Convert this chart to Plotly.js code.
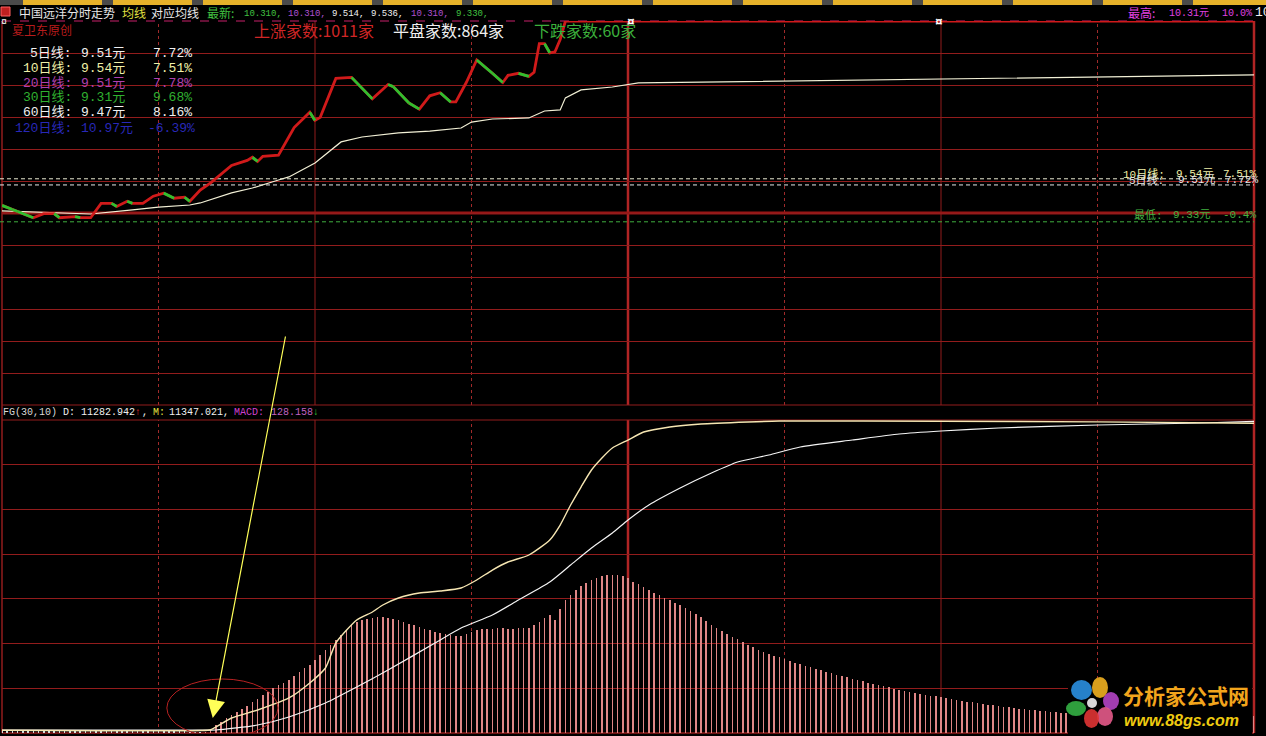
<!DOCTYPE html>
<html><head><meta charset="utf-8">
<script src="https://cdn.plot.ly/plotly-3.0.1.min.js"></script>
<style>html,body{margin:0;padding:0;background:#000;overflow:hidden}#chart{width:1266px;height:736px}</style>
</head><body><div id="chart"></div>
<script>
// ---------------- data ----------------
const stockName = '中国远洋';
const prevClose = 9.373;
const latestVals = ['10.310','10.310','9.514','9.536','10.310','9.330'];
const highPrice = 10.31, highPct = '10.0%';
const lowPrice = 9.33, lowPct = '-0.4%';
const upCount = 1011, flatCount = 864, downCount = 60;
const maNames = ['5日线','10日线','20日线','30日线','60日线','120日线'];
const maPrice = [9.51, 9.54, 9.51, 9.31, 9.47, 10.97];
const maPct = ['7.72%','7.51%','7.78%','9.68%','8.16%','-6.39%'];
const fgD = '11282.942', fgM = '11347.021', fgMacd = '128.158';

// intraday price (minute index from 9:30, price)
const priceMin = [0,2,3,6,8,10,11,14,15,17,19,21,22,24,25,27,29,31,33,35,36,38,40,44,47,48,49,50,53,56,59,60,61,64,67,71,74,75,78,80,82,84,86,87,89,91,94,96,97,99,101,102,103,104,105,106,107,108,240];
const price    = [9.41,9.39,9.38,9.35,9.37,9.37,9.35,9.355,9.35,9.35,9.42,9.42,9.405,9.43,9.42,9.42,9.455,9.47,9.445,9.45,9.43,9.485,9.52,9.605,9.63,9.645,9.625,9.65,9.655,9.79,9.865,9.825,9.84,10.03,10.035,9.93,10.0,9.99,9.91,9.88,9.945,9.96,9.915,9.915,10.01,10.12,10.055,10.01,10.045,10.055,10.04,10.06,10.2,10.2,10.155,10.16,10.22,10.31,10.31];
// average price line
const avgMin   = [0,6,17,25,30,36,38,44,48,53,55,60,63,65,69,76,82,88,90,94,101,104,107,108,111,117,122,150,180,210,240];
const avgPrice = [9.383,9.378,9.368,9.388,9.402,9.412,9.422,9.471,9.495,9.534,9.549,9.617,9.681,9.72,9.744,9.764,9.773,9.788,9.817,9.832,9.837,9.871,9.876,9.935,9.974,9.988,10.008,10.018,10.027,10.037,10.047];
// FG indicator D (fast) and M (slow)
const dMin = [0,38,40,44,49,55,59,62,64,68,71,73,76,80,84,88,91,94,97,101,105,107,109,111,113,115,117,120,123,128,134,143,149,180,210,240];
const dVal = [100,90,120,546,838,1275,1821,2367,3278,4115,4407,4662,4917,5099,5172,5281,5572,5936,6228,6483,7029,7575,8304,8959,9578,10016,10380,10671,10962,11145,11254,11327,11363,11355,11330,11283];
const mMin = [0,38,41,49,55,62,68,74,83,88,94,99,105,109,113,117,120,124,130,136,141,147,153,163,172,180,191,210,230,240];
const mVal = [110,110,109,291,583,1093,1675,2294,3278,3824,4298,4844,5499,6119,6738,7284,7757,8304,8923,9469,9870,10125,10416,10671,10890,10999,11108,11218,11290,11347];
// MACD stick, one per minute (0..240)
const macd = [
23,23,23,15,15,15,15,23,23,15,15,15,23,23,23,15,15,15,15,15,15,23,23,15,15,15,15,15,15,23,23,23,23,15,15,15,8,8,8,
8,30,60,83,113,135,158,180,203,233,
255,285,308,338,360,375,398,428,458,488,
510,548,585,623,660,698,735,773,810,833,
848,855,863,870,870,863,855,848,833,818,
810,795,780,773,758,750,743,735,728,728,
743,758,773,780,780,780,788,788,780,780,
788,788,788,810,833,863,885,848,930,998,
1035,1073,1103,1125,1148,1163,1178,1185,1185,1185,
1178,1163,1133,1118,1095,1073,1050,1035,1013,998,
975,960,938,915,893,870,840,810,788,765,
743,720,705,683,660,645,623,608,593,578,
570,555,540,525,518,503,495,480,473,458,
450,435,428,420,405,398,390,375,368,360,
353,345,330,323,315,308,300,293,285,278,
278,270,263,255,248,240,233,233,225,218,
210,210,203,195,195,188,180,180,173,173,
165,165,158,158,150,
150,150,150,143,143,143,143,143,143,143,135,135,
135,135,135,135,135,135,135,135,135,135,135,135,135,135,131,131,131,131,131,131,131,131,128,128,128];

// ---------------- geometry helpers (pixel -> paper) ----------------
const PX = x => (x - 2) / 1252;
const PY = y => (733 - y) / 712;
const CJK = '"Noto Sans CJK SC", sans-serif';
const MONO = '"Liberation Mono", "DejaVu Sans Mono", "Noto Sans CJK SC", monospace';
const BOLD = '"Liberation Sans", "Noto Sans CJK SC", sans-serif';
const topDom = [PY(405), 1], botDom = [0, PY(420)];

function txt(x, y, text, color, size, family, extra) {
  return Object.assign({xref:'paper', yref:'paper', x:PX(x), y:PY(y), text:text, showarrow:false,
    xanchor:'left', yanchor:'middle', borderpad:0,
    font:{family:family||MONO, size:size||12, color:color}}, extra||{});
}

// ---------------- traces ----------------
const traces = [];
// MACD sticks (base axis y2)
traces.push({type:'bar', x: macd.map((_, i) => i), y: macd, xaxis:'x2', yaxis:'y2', width:0.3,
  marker:{color: macd.map((_, i) => i < 39 ? '#cfe0e0' : '#e08686'), line:{width:0}}, hoverinfo:'skip'});
// FG lines (overlay y3)
traces.push({type:'scatter', mode:'lines', x:mMin, y:mVal, xaxis:'x2', yaxis:'y3',
  line:{color:'#f4f4f4', width:1.2, shape:'spline', smoothing:0.6}, hoverinfo:'skip'});
traces.push({type:'scatter', mode:'lines', x:dMin, y:dVal, xaxis:'x2', yaxis:'y3',
  line:{color:'#f6e6b2', width:1.4, shape:'spline', smoothing:0.6}, hoverinfo:'skip'});
// average price line
traces.push({type:'scatter', mode:'lines', x:avgMin, y:avgPrice, xaxis:'x', yaxis:'y',
  line:{color:'#f2f0d6', width:1.2}, hoverinfo:'skip'});
// price line red, falling segments green on top
traces.push({type:'scatter', mode:'lines', x:priceMin, y:price, xaxis:'x', yaxis:'y',
  line:{color:'#d01a1a', width:2.8}, hoverinfo:'skip'});
const gx = [], gy = [];
for (let i = 0; i < price.length - 1; i++) {
  if (price[i + 1] < price[i]) { gx.push(priceMin[i], priceMin[i + 1], null); gy.push(price[i], price[i + 1], null); }
}
traces.push({type:'scatter', mode:'lines', x:gx, y:gy, xaxis:'x', yaxis:'y',
  line:{color:'#2fc02f', width:2.8}, connectgaps:false, hoverinfo:'skip'});

// ---------------- shapes ----------------
const shapes = [];
const gridC = '#921c1c';
// vertical grid
const vlines = [[30,'dot'],[60,'solid'],[90,'dot'],[120,'thick'],[150,'dot'],[180,'solid'],[210,'dot']];
[['x',topDom],['x2',botDom]].forEach(([xr, dom]) => {
  vlines.forEach(([m, st]) => {
    shapes.push({type:'line', layer:'below', xref:xr, yref:'paper', x0:m, x1:m, y0:dom[0], y1:dom[1],
      line:{color: st === 'thick' ? '#b02424' : (st === 'dot' ? '#a02a2a' : gridC), width: st === 'thick' ? 2.5 : 1, dash: st === 'dot' ? 'dot' : 'solid'}});
  });
});
// borders
shapes.push({type:'line', layer:'below', xref:'paper', yref:'paper', x0:PX(2), x1:PX(2), y0:0, y1:1, line:{color:gridC, width:1.5}});
shapes.push({type:'line', layer:'below', xref:'paper', yref:'paper', x0:1, x1:1, y0:0, y1:1, line:{color:'#b02424', width:2.5}});
shapes.push({type:'line', layer:'below', xref:'paper', yref:'paper', x0:0, x1:1, y0:PY(405), y1:PY(405), line:{color:gridC, width:1.2}});
shapes.push({type:'line', layer:'below', xref:'paper', yref:'paper', x0:0, x1:1, y0:PY(420), y1:PY(420), line:{color:gridC, width:1.2}});
shapes.push({type:'line', layer:'below', xref:'paper', yref:'paper', x0:0, x1:1, y0:0, y1:0, line:{color:gridC, width:1.5}});
shapes.push({type:'line', layer:'below', xref:'paper', yref:'paper', x0:0, x1:1, y0:1, y1:1, line:{color:'#c8206a', width:1.2, dash:'dash'}});
// previous close thick line
shapes.push({type:'line', layer:'below', xref:'paper', yref:'y', x0:0, x1:1, y0:prevClose, y1:prevClose, line:{color:'#981616', width:3}});
// MA reference dashed lines and low line
shapes.push({type:'line', layer:'below', xref:'paper', yref:'y', x0:PX(0), x1:1, y0:maPrice[1], y1:maPrice[1], line:{color:'#e8e8d0', width:1, dash:'4px,3px'}});
shapes.push({type:'line', layer:'below', xref:'paper', yref:'y', x0:PX(0), x1:1, y0:maPrice[0], y1:maPrice[0], line:{color:'#e8e8e8', width:1, dash:'4px,3px'}});
shapes.push({type:'line', layer:'below', xref:'paper', yref:'y', x0:PX(0), x1:1, y0:lowPrice, y1:lowPrice, line:{color:'#3fae3f', width:1, dash:'4px,3px'}});
// red ellipse
shapes.push({type:'circle', layer:'above', xref:'x2', yref:'y3', x0:31.6, x1:52.9, y0:-146, y1:1967, line:{color:'#b82222', width:1}});
// top tab bar
shapes.push({type:'rect', xref:'paper', yref:'paper', x0:PX(-2), x1:PX(1268), y0:PY(5), y1:PY(0), fillcolor:'#4a4a4a', line:{width:0}});
for (let k = 0; k < 14; k++) {
  const a = 23 + 90 * k;
  shapes.push({type:'rect', xref:'paper', yref:'paper', x0:PX(a), x1:PX(Math.min(a + 79, 1268)), y0:PY(5), y1:PY(0), fillcolor:'#e6b22a', line:{width:0}});
}
// top-left icon
shapes.push({type:'rect', xref:'paper', yref:'paper', x0:PX(1), x1:PX(10), y0:PY(16), y1:PY(7), fillcolor:'#c02020', line:{color:'#ff6060', width:1}});
// logo backdrop and flower
shapes.push({type:'rect', layer:'above', xref:'paper', yref:'paper', x0:PX(1068), x1:PX(1252), y0:PY(735), y1:PY(678), fillcolor:'#000000', line:{width:0}});
const petals = [[1092,677,1108,698,'#f0b020'],[1103,692,1119,710,'#b444c4'],[1097,707,1113,726,'#e45a8a'],[1084,709,1099,728,'#e03434'],[1066,701,1086,716,'#34b044'],[1071,680,1092,700,'#2a8fe0']];
petals.forEach(p => shapes.push({type:'circle', layer:'above', xref:'paper', yref:'paper', x0:PX(p[0]), x1:PX(p[2]), y0:PY(p[3]), y1:PY(p[1]), fillcolor:p[4], opacity:0.9, line:{width:0}}));
shapes.push({type:'circle', layer:'above', xref:'paper', yref:'paper', x0:PX(1087), x1:PX(1097), y0:PY(708), y1:PY(698), fillcolor:'#d8d8d8', line:{width:0}});

// ---------------- annotations ----------------
const ann = [];
// header row
ann.push(txt(18, 13, stockName + '分时走势', '#e8e8e8', 12, CJK));
ann.push(txt(121, 13, '均线', '#e0e040', 12, CJK));
ann.push(txt(150, 13, '对应均线', '#e8e8e8', 12, CJK));
ann.push(txt(206, 13, '最新:', '#40c040', 12, CJK));
const latestX = [243, 287, 331, 370, 410, 455];
const latestC = ['#40c040', '#b050d0', '#f0f0f0', '#f0f0f0', '#b050d0', '#40c040'];
latestVals.forEach((v, i) => ann.push(txt(latestX[i], 14, v + ',', latestC[i], 9, MONO)));
ann.push(txt(1127, 13, '最高:', '#e040e0', 12, CJK));
ann.push(txt(1168, 14, highPrice.toFixed(2) + '元', '#e040e0', 10, MONO));
ann.push(txt(1221, 14, highPct, '#e040e0', 10, MONO));
ann.push(txt(1254, 13, '10', '#f0f0f0', 13, MONO));
// second row
ann.push(txt(0, 23, '¤', '#ffffff', 10, MONO));
ann.push(txt(11, 29, '夏卫东原创', '#b81c1c', 12, CJK));
ann.push(txt(253, 30, '上涨家数:' + upCount + '家', '#d02626', 16, CJK));
ann.push(txt(392, 30, '平盘家数:' + flatCount + '家', '#f0f0f0', 16, CJK));
ann.push(txt(533, 30, '下跌家数:' + downCount + '家', '#3cb03c', 16, CJK));
ann.push(txt(626, 22, '¤', '#ffffff', 13, MONO, {font:{family:MONO, size:13, color:'#ffffff', weight:'bold'}}));
ann.push(txt(934, 22, '¤', '#ffffff', 13, MONO, {font:{family:MONO, size:13, color:'#ffffff', weight:'bold'}}));
// left MA legend
const maColors = ['#f0f0f0', '#f0f0a8', '#b040b0', '#30b030', '#f0f0f0', '#2828b8'];
const maY = [53, 68, 83, 98, 113, 128];
maNames.forEach((n, i) => {
  ann.push(txt(73, maY[i], n + ':', maColors[i], 13, MONO, {xanchor:'right'}));
  ann.push(txt(80, maY[i], maPrice[i].toFixed(2) + '元', maColors[i], 13, MONO));
  ann.push(txt(maPct[i].startsWith('-') ? 147 : 152, maY[i], maPct[i], maColors[i], 13, MONO));
});
// right labels
ann.push(txt(1122, 174, maNames[1] + ':', '#f0f0a8', 11, MONO));
ann.push(txt(1175, 174, maPrice[1].toFixed(2) + '元', '#f0f0a8', 11, MONO));
ann.push(txt(1222, 174, maPct[1], '#f0f0a8', 11, MONO));
ann.push(txt(1128, 180, maNames[0] + ':', '#e8e8e8', 11, MONO));
ann.push(txt(1177, 180, maPrice[0].toFixed(2) + '元', '#e8e8e8', 11, MONO));
ann.push(txt(1224, 180, maPct[0], '#e8e8e8', 11, MONO));
ann.push(txt(1133, 215, '最低:', '#40b040', 11, MONO));
ann.push(txt(1172, 215, lowPrice.toFixed(2) + '元', '#40b040', 11, MONO));
ann.push(txt(1222, 215, lowPct, '#40b040', 11, MONO));
// indicator title row
ann.push(txt(2, 412, 'FG(30,10)', '#d8d8d8', 10, MONO));
ann.push(txt(62, 412, 'D: ' + fgD, '#f0f0f0', 10, MONO));
ann.push(txt(134, 412, '↑', '#e03030', 10, MONO));
ann.push(txt(141, 412, ',', '#f0f0f0', 10, MONO));
ann.push(txt(152, 412, 'M:', '#e0e040', 10, MONO));
ann.push(txt(168, 412, fgM + ',', '#f0f0f0', 10, MONO));
ann.push(txt(233, 412, 'MACD:', '#d040d0', 10, MONO));
ann.push(txt(270, 412, fgMacd, '#c060c0', 10, MONO));
ann.push(txt(312, 412, '↓', '#30c030', 10, MONO));
// arrow
ann.push({xref:'x2', yref:'y3', x:40.4, y:546, ax:73, ay:-383, text:'', showarrow:true,
  arrowcolor:'#ffff58', arrowwidth:1.2, arrowhead:2, arrowsize:3});
// logo text
ann.push(txt(1122, 695, '分析家公式网', '#f2a51c', 21, CJK, {font:{family:CJK, size:21, color:'#f2a51c', weight:'bold'}}));
ann.push(txt(1123, 720, 'www.88gs.com', '#eecb10', 16, BOLD, {font:{family:BOLD, size:16, color:'#eecb10', weight:'bold', style:'italic'}}));

// ---------------- layout ----------------
const yr = [prevClose * 0.9, prevClose * 1.1];
const axHidden = {showticklabels:false, zeroline:false, showline:false, ticks:''};
const layout = {
  width:1266, height:736, paper_bgcolor:'#000000', plot_bgcolor:'#000000',
  margin:{l:2, r:12, t:21, b:3}, showlegend:false, bargap:0,
  xaxis:Object.assign({domain:[0,1], anchor:'y', range:[0,240], showgrid:false}, axHidden),
  yaxis:Object.assign({domain:topDom, anchor:'x', range:yr, tick0:yr[0], dtick:(yr[1]-yr[0])/12, showgrid:true, gridcolor:gridC, gridwidth:1}, axHidden),
  xaxis2:Object.assign({domain:[0,1], anchor:'y2', range:[0,240], showgrid:false}, axHidden),
  yaxis2:Object.assign({domain:botDom, anchor:'x2', range:[0,2348], tick0:0, dtick:2348/7, showgrid:true, gridcolor:gridC, gridwidth:1}, axHidden),
  yaxis3:Object.assign({overlaying:'y2', anchor:'x2', range:[0,11400], showgrid:false}, axHidden),
  shapes:shapes, annotations:ann
};
Plotly.newPlot('chart', traces, layout, {staticPlot:true, displayModeBar:false});
</script></body></html>
